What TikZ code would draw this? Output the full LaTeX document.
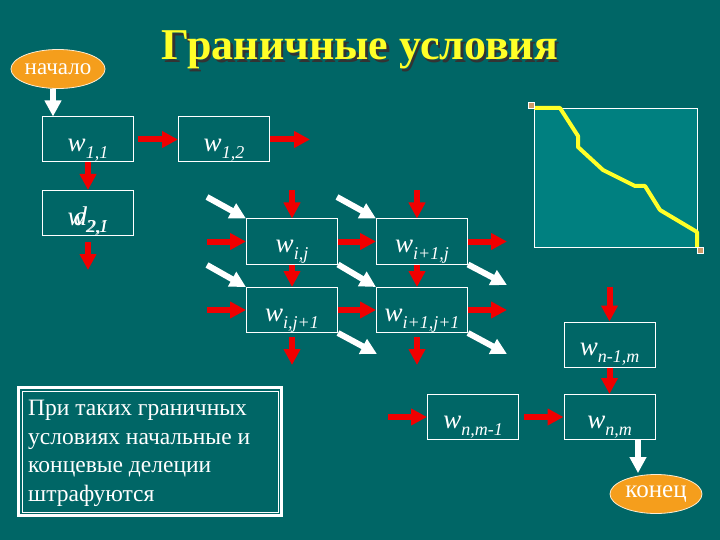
\documentclass[tikz,border=0pt]{standalone}
\usepackage{fontspec}
\setmainfont{Liberation Serif}
\usetikzlibrary{arrows.meta,shapes.geometric}
\definecolor{bg}{RGB}{0,102,102}
\definecolor{panel}{RGB}{0,128,128}
\definecolor{ora}{RGB}{245,158,28}
\definecolor{ared}{RGB}{240,0,0}
\definecolor{ylw}{RGB}{255,255,40}
\definecolor{tanc}{RGB}{204,153,102}
\newcommand{\wlab}[2]{{\fontsize{27}{27}\selectfont\itshape #1}{\fontsize{18}{18}\selectfont\itshape\raisebox{-7pt}{#2}}}
\begin{document}
\begin{tikzpicture}[x=1pt,y=-1pt,
 cell/.style={draw=white,line width=1pt,minimum width=91pt,minimum height=45pt,inner sep=0pt},
 wtext/.style={text=white,anchor=base,inner sep=0pt},
 rarrow/.style={draw=ared,line width=6pt,-{Triangle[length=16pt,width=16pt]}},
 warrow/.style={draw=white,line width=6pt,-{Triangle[length=16pt,width=16pt]}},
 oval/.style={ellipse,fill=ora,draw=white!80!ora,line width=0.8pt,minimum width=92pt,minimum height=39pt,inner sep=0pt,text=white}
]
\fill[bg] (0,0) rectangle (720,540);
\useasboundingbox (0,0) rectangle (720,540);

% title
\node[anchor=base,inner sep=0pt,text=black!80,font=\fontsize{44}{44}\selectfont\bfseries] (tshadow) at (362.5,62.5) {Граничные условия};
\node[anchor=base,inner sep=0pt,text=ylw,font=\fontsize{44}{44}\selectfont\bfseries] (title) at (360,60) {Граничные условия};

% right panel
\draw[white,line width=0.8pt,fill=panel] (534,108) rectangle (697,247);
\draw[ylw,line width=4pt,line join=round] (534,108) -- (560,108) -- (578,136) -- (578,147) -- (603,170) -- (635,186) -- (645,186) -- (660,210) -- (697,232) -- (697,247);
\fill[tanc,draw=white,line width=0.4pt] (528.5,102.5) rectangle (534.5,108.5);
\fill[tanc,draw=white,line width=0.4pt] (697,247) rectangle (703,253);

% start
\node[oval,font=\fontsize{23}{23}\selectfont] (start) at (58,69) {начало};

% cells
\node[cell] (w11) at (88,139.5) {};
\node[cell] (w12) at (224,139.5) {};
\node[cell] (w21) at (88,213) {};
\node[cell] (wij) at (292,241.5) {};
\node[cell] (wi1j) at (422,241.5) {};
\node[cell] (wij1) at (292,310) {};
\node[cell] (wi1j1) at (422,310) {};
\node[cell] (wn1m) at (609.5,344.5) {};
\node[cell] (wnm) at (609.5,417) {};
\node[cell] (wnm1) at (473,417) {};

\node[wtext] (t11) at ([yshift=-12.5pt]w11.center) {\wlab{w}{1,1}};
\node[wtext] (t12) at ([yshift=-12.5pt]w12.center) {\wlab{w}{1,2}};
\node[wtext] (t21) at ([yshift=-12.5pt]w21.center) {\wlab{w}{2,1}};
\node[wtext] (t21b) at ([xshift=2pt,yshift=-12.5pt]w21.center) {\wlab{d}{2,I}};
\node[wtext] (tij) at ([yshift=-11pt]wij.center) {\wlab{w}{i,j}};
\node[wtext] (ti1j) at ([yshift=-11pt]wi1j.center) {\wlab{w}{i+1,j}};
\node[wtext] (tij1) at ([yshift=-11pt]wij1.center) {\wlab{w}{i,j+1}};
\node[wtext] (ti1j1) at ([yshift=-11pt]wi1j1.center) {\wlab{w}{i+1,j+1}};
\node[wtext] (tn1m) at ([yshift=-11pt]wn1m.center) {\wlab{w}{n-1,m}};
\node[wtext] (tnm) at ([yshift=-11pt]wnm.center) {\wlab{w}{n,m}};
\node[wtext] (tnm1) at ([yshift=-11pt]wnm1.center) {\wlab{w}{n,m-1}};

% end
\node[oval,font=\fontsize{25}{25}\selectfont] (end) at (656,494) {конец};

% free arrow ends
\coordinate (c12r) at (310,139.5);
\coordinate (c21d) at (88,270);
\coordinate (cijT) at (292,190);
\coordinate (ci1jT) at (417,190);
\coordinate (cijL) at (207,241.5);
\coordinate (ci1jR) at (507,241.5);
\coordinate (cij1L) at (207,310);
\coordinate (ci1j1R) at (507,310);
\coordinate (cij1D) at (292,365);
\coordinate (ci1j1D) at (417,365);
\coordinate (dA) at (207,197);
\coordinate (dB) at (337,197);
\coordinate (dC) at (207,265);
\coordinate (dD) at (507,285);
\coordinate (dE) at (377,354);
\coordinate (dF) at (507,354);
\coordinate (cn1mT) at (609.5,287);
\coordinate (cnm1L) at (388,417);

% white arrows
\draw[warrow] ([xshift=-5pt]start.south) -- ([xshift=-35pt]w11.north);
\draw[warrow] (dA) -- (wij.north west);
\draw[warrow] (dB) -- (wi1j.north west);
\draw[warrow] (dC) -- (wij1.north west);
\draw[warrow] (wij.south east) -- (wi1j1.north west);
\draw[warrow] (wi1j.south east) -- (dD);
\draw[warrow] (wij1.south east) -- (dE);
\draw[warrow] (wi1j1.south east) -- (dF);
\draw[warrow] ([xshift=28.5pt]wnm.south) -- ([xshift=-18pt,yshift=1pt]end.north);

% red arrows
\draw[rarrow] ([xshift=4pt]w11.east) -- (w12.west);
\draw[rarrow] (w12.east) -- (c12r);
\draw[rarrow] (w11.south) -- (w21.north);
\draw[rarrow] ([yshift=-6pt]w21.south) -- (c21d);
\draw[rarrow] (cijT) -- (wij.north);
\draw[rarrow] (ci1jT) -- ([xshift=-5pt]wi1j.north);
\draw[rarrow] (cijL) -- (wij.west);
\draw[rarrow] (wij.east) -- (wi1j.west);
\draw[rarrow] (wi1j.east) -- (ci1jR);
\draw[rarrow] (cij1L) -- (wij1.west);
\draw[rarrow] (wij1.east) -- (wi1j1.west);
\draw[rarrow] (wi1j1.east) -- (ci1j1R);
\draw[rarrow] (wij.south) -- (wij1.north);
\draw[rarrow] ([xshift=-5pt]wi1j.south) -- ([xshift=-5pt]wi1j1.north);
\draw[rarrow] ([yshift=-4pt]wij1.south) -- (cij1D);
\draw[rarrow] ([xshift=-5pt,yshift=-4pt]wi1j1.south) -- (ci1j1D);
\draw[rarrow] (cn1mT) -- (wn1m.north);
\draw[rarrow] (wn1m.south) -- (wnm.north);
\draw[rarrow] (cnm1L) -- (wnm1.west);
\draw[rarrow] ([xshift=5pt]wnm1.east) -- (wnm.west);

% note box
\node[draw=white,line width=1pt,minimum width=256pt,minimum height=121pt,inner sep=0pt] (note) at (150,451.5) {};
\draw[white,line width=3pt] ([shift={(-3pt,3pt)}]note.north west) rectangle ([shift={(3pt,-3pt)}]note.south east);
\node[anchor=north west,inner sep=0pt,text=white,align=left,font=\fontsize{23.5}{28.5}\selectfont] (notetext) at (28,400) {При таких граничных\\условиях начальные и\\концевые делеции\\штрафуются};
\end{tikzpicture}
\end{document}
